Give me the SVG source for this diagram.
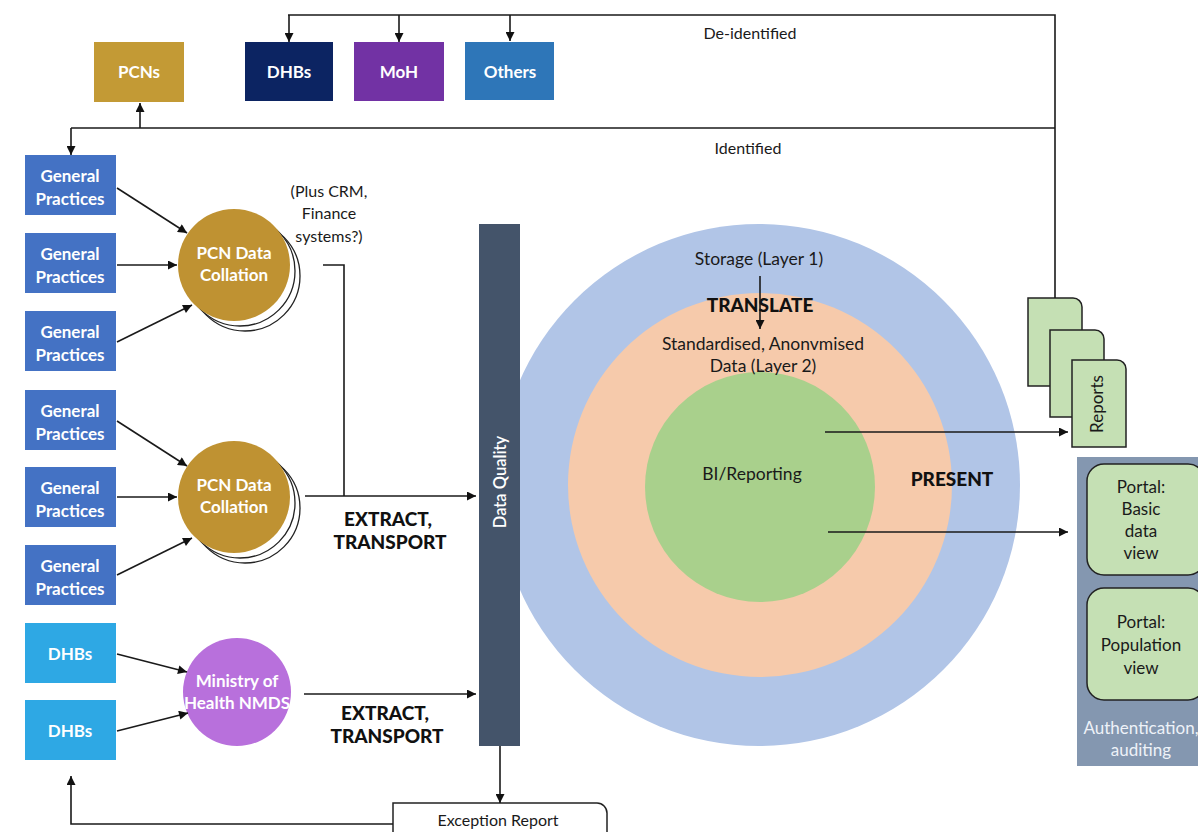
<svg xmlns="http://www.w3.org/2000/svg" width="1198" height="832" viewBox="0 0 1198 832">
<defs>
<marker id="ah" viewBox="0 0 10 10" refX="10" refY="5" markerWidth="10" markerHeight="9" markerUnits="userSpaceOnUse" orient="auto">
<path d="M0,0 L10,5 L0,10 Z" fill="#111"/>
</marker>
<style>
text{font-family:Lato,"Liberation Sans",sans-serif;}
.wb{fill:#fff;font-weight:700;font-size:17px;text-anchor:middle;}
.lbl{fill:#1a1a1a;font-size:16px;text-anchor:middle;}
.pl{fill:#1a1a1a;font-size:17px;text-anchor:middle;}
.rl{fill:#1a1a1a;font-size:17.5px;text-anchor:middle;}
.big{fill:#111;font-weight:900;font-size:19px;text-anchor:middle;}
.ln{fill:none;stroke:#1a1a1a;stroke-width:1.6;}
.ar{fill:none;stroke:#1a1a1a;stroke-width:1.6;marker-end:url(#ah);}
.gp{fill:#4472C4;}
.dhb{fill:#2EA8E4;}
.doc{fill:#C5E0B4;stroke:#222;stroke-width:1.5;}
.portal{fill:#C5E0B4;stroke:#222;stroke-width:1.5;}
</style>
</defs>
<rect width="1198" height="832" fill="#fff"/>

<!-- Rings -->
<g id="storage">
<circle cx="759" cy="485" r="261" fill="#B1C5E7"/>
</g>
<g id="standardised">
<circle cx="760" cy="485" r="192" fill="#F6CAAB"/>
</g>
<g id="bi">
<circle cx="760" cy="487" r="115" fill="#A9D08C"/>
<text class="rl" x="752" y="480">BI/Reporting</text>
</g>
<g id="ring-labels">
<text class="rl" x="759" y="265">Storage (Layer 1)</text>
<text class="rl" x="763" y="350">Standardised, Anonvmised</text>
<text class="rl" x="763" y="372">Data (Layer 2)</text>
</g>

<!-- Data quality -->
<g id="data-quality">
<rect x="479" y="224" width="41" height="522" fill="#44546A"/>
<text transform="translate(506,482) rotate(-90)" fill="#fff" font-size="16.5" font-weight="600" text-anchor="middle">Data Quality</text>
</g>

<!-- Top recipients -->
<g id="pcns"><rect x="94" y="42" width="90" height="60" fill="#C39A35"/><text class="wb" x="139" y="78" font-size="16">PCNs</text></g>
<g id="dhbs-top"><rect x="245" y="42" width="88" height="59" fill="#0C2462"/><text class="wb" x="289" y="78" font-size="16">DHBs</text></g>
<g id="moh"><rect x="354" y="42" width="90" height="59" fill="#7232A4"/><text class="wb" x="399" y="78" font-size="16">MoH</text></g>
<g id="others"><rect x="465" y="42" width="89" height="58" fill="#2E76B8"/><text class="wb" x="510" y="78" font-size="16">Others</text></g>

<!-- General practices -->
<g id="gp1"><rect class="gp" x="25" y="155" width="91" height="60"/><text class="wb" x="70" y="182">General</text><text class="wb" x="70" y="205">Practices</text></g>
<g id="gp2"><rect class="gp" x="25" y="233" width="91" height="60"/><text class="wb" x="70" y="260">General</text><text class="wb" x="70" y="283">Practices</text></g>
<g id="gp3"><rect class="gp" x="25" y="311" width="91" height="60"/><text class="wb" x="70" y="338">General</text><text class="wb" x="70" y="361">Practices</text></g>
<g id="gp4"><rect class="gp" x="25" y="390" width="91" height="60"/><text class="wb" x="70" y="417">General</text><text class="wb" x="70" y="440">Practices</text></g>
<g id="gp5"><rect class="gp" x="25" y="467" width="91" height="60"/><text class="wb" x="70" y="494">General</text><text class="wb" x="70" y="517">Practices</text></g>
<g id="gp6"><rect class="gp" x="25" y="545" width="91" height="60"/><text class="wb" x="70" y="572">General</text><text class="wb" x="70" y="595">Practices</text></g>
<g id="dhb1"><rect class="dhb" x="25" y="623" width="91" height="60"/><text class="wb" x="70" y="660">DHBs</text></g>
<g id="dhb2"><rect class="dhb" x="25" y="700" width="91" height="60"/><text class="wb" x="70" y="737">DHBs</text></g>

<!-- Collation circles -->
<g id="pcn1">
<circle cx="245" cy="276" r="55" fill="#fff" stroke="#222" stroke-width="1.3"/>
<circle cx="240" cy="271" r="55" fill="#fff" stroke="#222" stroke-width="1.3"/>
<circle cx="234" cy="265" r="56" fill="#BF9232"/>
<text class="wb" x="234" y="259" font-size="16" fill="#F4ECD8">PCN Data</text>
<text class="wb" x="234" y="281" font-size="16" fill="#F4ECD8">Collation</text>
</g>
<g id="pcn2">
<circle cx="245" cy="508" r="55" fill="#fff" stroke="#222" stroke-width="1.3"/>
<circle cx="240" cy="503" r="55" fill="#fff" stroke="#222" stroke-width="1.3"/>
<circle cx="234" cy="497" r="56" fill="#BF9232"/>
<text class="wb" x="234" y="491" font-size="16" fill="#F4ECD8">PCN Data</text>
<text class="wb" x="234" y="513" font-size="16" fill="#F4ECD8">Collation</text>
</g>
<g id="moh-nmds">
<circle cx="237" cy="692" r="54" fill="#B870DC"/>
<text class="wb" x="237" y="687" font-size="16" fill="#F3E6FA">Ministry of</text>
<text class="wb" x="237" y="709" font-size="16" fill="#F3E6FA">Health NMDS</text>
</g>

<!-- Reports -->
<g id="reports">
<path class="doc" d="M1028,298 H1073 A9,9 0 0 1 1082,307 V386 H1028 Z"/>
<path class="doc" d="M1050,330 H1095 A9,9 0 0 1 1104,339 V417 H1050 Z"/>
<path class="doc" d="M1072,360 H1117 A9,9 0 0 1 1126,369 V447 H1072 Z"/>
<text transform="translate(1103,404) rotate(-90)" fill="#1a1a1a" font-size="17" text-anchor="middle">Reports</text>
</g>

<!-- Portal panel -->
<g id="portal-panel">
<rect x="1077" y="457" width="125" height="309" fill="#8497B0"/>
<text x="1141" y="734" fill="#EEF2F8" font-size="17" text-anchor="middle">Authentication,</text>
<text x="1141" y="756" fill="#EEF2F8" font-size="17" text-anchor="middle">auditing</text>
</g>
<g id="portal-basic">
<rect class="portal" x="1087" y="464" width="118" height="111" rx="17"/>
<text class="pl" x="1141" y="493">Portal:</text>
<text class="pl" x="1141" y="515">Basic</text>
<text class="pl" x="1141" y="537">data</text>
<text class="pl" x="1141" y="559">view</text>
</g>
<g id="portal-population">
<rect class="portal" x="1087" y="588" width="118" height="112" rx="17"/>
<text class="pl" x="1141" y="628">Portal:</text>
<text class="pl" x="1141" y="651">Population</text>
<text class="pl" x="1141" y="674">view</text>
</g>

<!-- Exception report -->
<g id="exception-report">
<path d="M393,803 H597 A10,10 0 0 1 607,813 V845 H393 Z" fill="#fff" stroke="#222" stroke-width="1.5"/>
<text class="lbl" x="498" y="826">Exception Report</text>
</g>

<!-- Connectors -->
<g id="connectors">
<polyline class="ln" points="1055,298 1055,15 288,15"/>
<line class="ar" x1="289" y1="15" x2="289" y2="42"/>
<line class="ar" x1="399" y1="15" x2="399" y2="42"/>
<line class="ar" x1="510" y1="15" x2="510" y2="41"/>
<line class="ln" x1="71" y1="128" x2="1055" y2="128"/>
<line class="ar" x1="140" y1="128" x2="140" y2="103"/>
<line class="ar" x1="71" y1="128" x2="71" y2="155"/>

<line class="ar" x1="117" y1="188" x2="187" y2="233"/>
<line class="ar" x1="117" y1="265" x2="177" y2="265"/>
<line class="ar" x1="117" y1="342" x2="192" y2="305"/>
<line class="ar" x1="117" y1="421" x2="187" y2="466"/>
<line class="ar" x1="117" y1="497" x2="177" y2="497"/>
<line class="ar" x1="117" y1="575" x2="192" y2="538"/>
<line class="ar" x1="117" y1="654" x2="187" y2="672"/>
<line class="ar" x1="117" y1="731" x2="188" y2="713"/>

<polyline class="ln" points="323,265 344,265 344,496"/>
<line class="ar" x1="305" y1="496" x2="476" y2="496"/>
<line class="ar" x1="304" y1="694" x2="476" y2="694"/>

<line class="ar" x1="760" y1="276" x2="760" y2="329"/>
<line class="ar" x1="825" y1="432" x2="1068" y2="432"/>
<line class="ar" x1="828" y1="532" x2="1068" y2="532"/>

<line class="ar" x1="500" y1="746" x2="500" y2="803"/>
<polyline class="ar" points="393,824 71,824 71,776"/>
</g>

<!-- Free labels -->
<g id="labels">
<text class="lbl" x="750" y="39" font-size="17">De-identified</text>
<text class="lbl" x="748" y="154" font-size="17">Identified</text>
<text class="lbl" x="329" y="197">(Plus CRM,</text>
<text class="lbl" x="329" y="219">Finance</text>
<text class="lbl" x="329" y="242">systems?)</text>
<text class="big" x="388" y="526">EXTRACT,</text>
<text class="big" x="390" y="549">TRANSPORT</text>
<text class="big" x="385" y="720">EXTRACT,</text>
<text class="big" x="387" y="743">TRANSPORT</text>
<text class="big" x="760" y="312">TRANSLATE</text>
<text class="big" x="952" y="486">PRESENT</text>
</g>
</svg>
